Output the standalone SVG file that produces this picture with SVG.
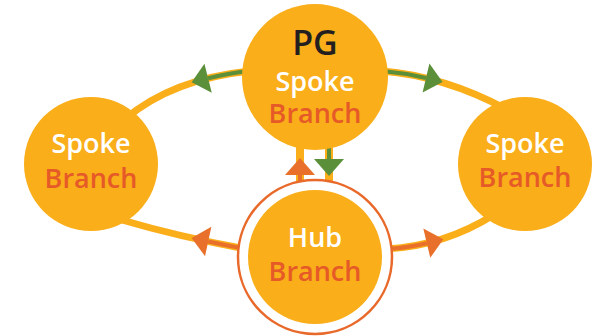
<svg xmlns="http://www.w3.org/2000/svg" width="600" height="336" viewBox="0 0 600 336">
<style>
.orbit{fill:none;stroke:#F9AE1A;stroke-width:7;stroke-linecap:round}
.g{fill:none;stroke:#5B8F3A;stroke-width:4}
.o{fill:none;stroke:#E8702A;stroke-width:4}
.node{fill:#F9AE1A}
.t{font-family:"Open Sans","Noto Sans",sans-serif;font-weight:600;text-anchor:middle}
.w{fill:#FFFFFF;font-size:27px}
.b{fill:#E65A28;font-size:27px}
.pg{fill:#231F20;font-size:34px}
</style>
<defs>
<marker id="ag" viewBox="0 -16 18 32" markerWidth="18" markerHeight="32" refX="0" refY="0" orient="auto" markerUnits="userSpaceOnUse" overflow="visible"><path d="M0,-15 L17,0 L0,15 Z" fill="#5B8F3A"/></marker>
<marker id="ao" viewBox="0 -16 18 32" markerWidth="18" markerHeight="32" refX="0" refY="0" orient="auto" markerUnits="userSpaceOnUse" overflow="visible"><path d="M0,-15 L17,0 L0,15 Z" fill="#E8702A"/></marker>
</defs>
<g id="connectors">
<path class="orbit" d="M250,71 Q172.5,79 125,119 M382,71 Q444,76 506,109 M246,249 Q178,236.5 122,220 M385,249 Q444,246.5 495,214"/>
<path class="orbit" d="M300,140 L300,195 M329,140 L329,195" style="stroke-width:8;stroke-linecap:butt"/>
<path class="g" d="M250,71 Q227.5,73.3 208.1,78.2" marker-end="url(#ag)"/>
<path class="g" d="M382,71 Q403.8,72.8 426,78" marker-end="url(#ag)"/>
<path class="o" d="M246,249 Q226.3,245.4 208.2,241.5" marker-end="url(#ao)"/>
<path class="o" d="M385,249 Q406.3,248.1 426.8,243.2" marker-end="url(#ao)"/>
<path class="o" d="M300,192 L300,175" marker-end="url(#ao)"/>
<path class="g" d="M329,140 L329,159" marker-end="url(#ag)"/>
</g>
<g id="node-pg">
<circle class="node" cx="315" cy="77" r="73"/>
<text class="t pg" x="315" y="55">PG</text>
<text class="t w" x="315" y="91">Spoke</text>
<text class="t b" x="315" y="123">Branch</text>
</g>
<g id="node-left">
<circle class="node" cx="91" cy="164" r="67"/>
<text class="t w" x="91" y="153">Spoke</text>
<text class="t b" x="91" y="188">Branch</text>
</g>
<g id="node-right">
<circle class="node" cx="525" cy="164" r="67"/>
<text class="t w" x="525" y="153">Spoke</text>
<text class="t b" x="525" y="187">Branch</text>
</g>
<g id="node-hub">
<circle cx="315" cy="257" r="77" fill="#FFFFFF" stroke="#E8692A" stroke-width="2.5"/>
<circle class="node" cx="315" cy="257" r="67"/>
<text class="t w" x="315" y="247">Hub</text>
<text class="t b" x="315" y="281">Branch</text>
</g>
</svg>
